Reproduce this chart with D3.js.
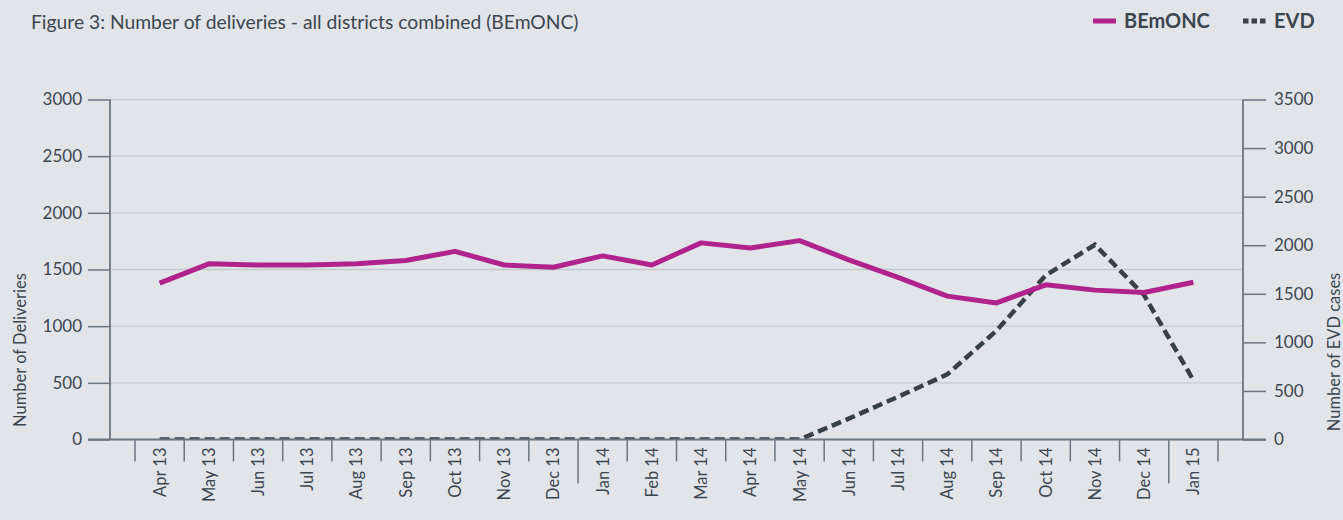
<!DOCTYPE html>
<html>
<head>
<meta charset="utf-8">
<script src="https://cdn.jsdelivr.net/npm/d3@7"></script>
<style>
  html, body { margin: 0; padding: 0; background: #e1e4e9; }
  svg { display: block; }
  text { font-family: Lato, "Open Sans", sans-serif; fill: #3c4650; }
</style>
</head>
<body>
<svg id="chart" width="1343" height="520"></svg>
<script>
const months = ["Apr 13","May 13","Jun 13","Jul 13","Aug 13","Sep 13","Oct 13","Nov 13","Dec 13",
  "Jan 14","Feb 14","Mar 14","Apr 14","May 14","Jun 14","Jul 14","Aug 14","Sep 14","Oct 14","Nov 14","Dec 14","Jan 15"];
const bemonc = [1380,1550,1540,1540,1550,1580,1660,1540,1520,1620,1540,1735,1690,1755,1585,1430,1265,1205,1365,1318,1297,1387];
const evd = [0,0,0,0,0,0,0,0,0,0,0,0,0,0,215,440,670,1120,1690,2005,1485,610];
const leftTicks = [0,500,1000,1500,2000,2500,3000];
const rightTicks = [0,500,1000,1500,2000,2500,3000,3500];
const yearStarts = ["Jan 14","Jan 15"];

const svg = d3.select("#chart");
const plotL = 110, plotR = 1243, plotT = 99.5, plotB = 439.5;
const axisColor = "#6b7580", gridColor = "#c5c9ce";

const x = d3.scaleBand().domain(months).range([135, 1218]).padding(0);
const cx = d => x(d) + x.bandwidth() / 2;
const yL = d3.scaleLinear().domain([0, 3000]).range([plotB, plotT]);
const yR = d3.scaleLinear().domain([0, 3500]).range([plotB, plotT]);

// Title
svg.append("text").attr("x", 31).attr("y", 22).attr("dy", "0.36em")
  .style("font-size", "19.3px").text("Figure 3: Number of deliveries - all districts combined (BEmONC)");

// Gridlines
svg.append("g").selectAll("line").data(leftTicks.filter(d => d > 0)).join("line")
  .attr("x1", plotL).attr("x2", plotR)
  .attr("y1", d => yL(d)).attr("y2", d => yL(d))
  .attr("stroke", gridColor).attr("stroke-width", 1.3);

// Left axis
const gL = svg.append("g").attr("transform", `translate(${plotL},0)`)
  .call(d3.axisLeft(yL).tickValues(leftTicks).tickSize(22).tickPadding(6).tickFormat(d3.format("d")));
gL.select(".domain").remove();
gL.selectAll(".tick line").attr("stroke", axisColor).attr("stroke-width", 1.5);
gL.selectAll(".tick text").style("font-size", "17px").attr("font-family", null).style("fill", "#3c4650");
svg.append("line").attr("x1", plotL).attr("x2", plotL).attr("y1", plotT).attr("y2", plotB)
  .attr("stroke", axisColor).attr("stroke-width", 1.8);

// Right axis
const gR = svg.append("g").attr("transform", `translate(${plotR},0)`)
  .call(d3.axisRight(yR).tickValues(rightTicks).tickSize(23).tickPadding(8).tickFormat(d3.format("d")));
gR.select(".domain").remove();
gR.selectAll(".tick line").attr("stroke", axisColor).attr("stroke-width", 1.5);
gR.selectAll(".tick text").style("font-size", "17px").attr("font-family", null).style("fill", "#3c4650");
svg.append("line").attr("x1", plotR).attr("x2", plotR).attr("y1", plotT).attr("y2", plotB)
  .attr("stroke", axisColor).attr("stroke-width", 1.8);

// X axis ticks at band boundaries
const bounds = months.map(m => ({ pos: x(m), long: yearStarts.includes(m) }));
bounds.push({ pos: x(months[months.length - 1]) + x.bandwidth(), long: false });
svg.append("g").selectAll("line").data(bounds).join("line")
  .attr("x1", d => d.pos).attr("x2", d => d.pos)
  .attr("y1", plotB).attr("y2", d => plotB + (d.long ? 44 : 22))
  .attr("stroke", axisColor).attr("stroke-width", 1.5);

// X labels
svg.append("g").selectAll("text").data(months).join("text")
  .attr("transform", d => `translate(${cx(d)},${plotB + 8}) rotate(-90)`)
  .attr("text-anchor", "end").attr("dy", "0.36em")
  .style("font-size", "16.5px").text(d => d);

// Axis titles
svg.append("text").attr("transform", `translate(26,350) rotate(-90)`)
  .attr("text-anchor", "middle").style("font-size", "16.5px").text("Number of Deliveries");
svg.append("text").attr("transform", `translate(1340,352) rotate(-90)`)
  .attr("text-anchor", "middle").style("font-size", "16.5px").text("Number of EVD cases");

// Clip for plot area
svg.append("clipPath").attr("id", "plotClip").append("rect")
  .attr("x", plotL).attr("y", 0).attr("width", plotR - plotL).attr("height", plotB);

// EVD line
const lineR = d3.line().x((d, i) => cx(months[i])).y(d => yR(d));
svg.append("path").datum(evd).attr("d", lineR)
  .attr("clip-path", "url(#plotClip)")
  .attr("fill", "none").attr("stroke", "#373f47").attr("stroke-width", 4.5)
  .attr("stroke-dasharray", "10,5");

// BEmONC line
const lineL = d3.line().x((d, i) => cx(months[i])).y(d => yL(d));
svg.append("path").datum(bemonc).attr("d", lineL)
  .attr("fill", "none").attr("stroke", "#b0228c").attr("stroke-width", 5)
  .attr("stroke-linejoin", "round");

// X axis line (over the clipped EVD)
svg.append("line").attr("x1", 88).attr("x2", 1266).attr("y1", plotB).attr("y2", plotB)
  .attr("stroke", axisColor).attr("stroke-width", 1.8);

// Legend
const lg = svg.append("g");
lg.append("line").attr("x1", 1093).attr("x2", 1116).attr("y1", 21).attr("y2", 21)
  .attr("stroke", "#b0228c").attr("stroke-width", 5);
lg.append("text").attr("x", 1124).attr("y", 21).attr("dy", "0.36em")
  .style("font-size", "20px").style("font-weight", "bold").text("BEmONC");
lg.append("line").attr("x1", 1243).attr("x2", 1266).attr("y1", 21).attr("y2", 21)
  .attr("stroke", "#373f47").attr("stroke-width", 5).attr("stroke-dasharray", "5.5,3");
lg.append("text").attr("x", 1274).attr("y", 21).attr("dy", "0.36em")
  .style("font-size", "20px").style("font-weight", "bold").text("EVD");
</script>
</body>
</html>
